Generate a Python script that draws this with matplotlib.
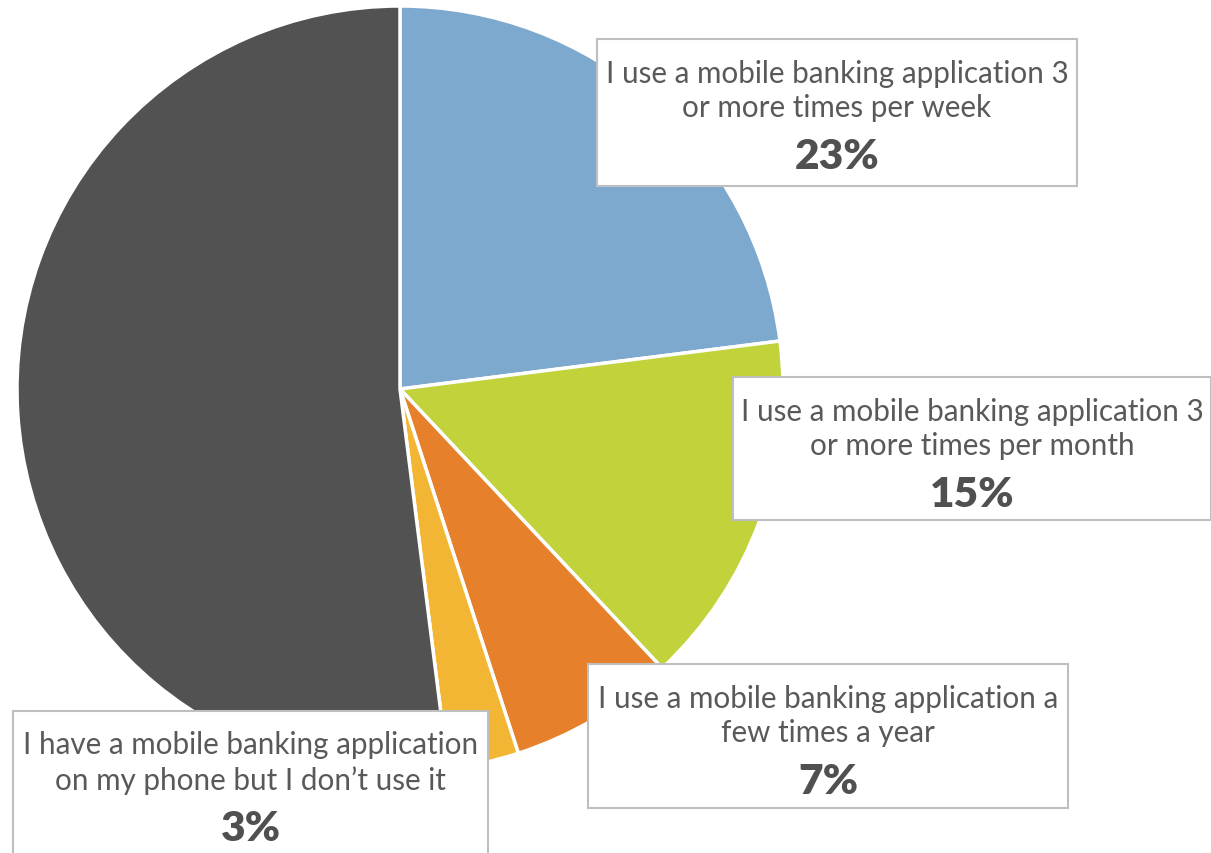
import matplotlib.pyplot as plt
from matplotlib.patches import Rectangle

# survey shares (%), clockwise from 12 o'clock
labels = [
    "I use a mobile banking application 3\nor more times per week",
    "I use a mobile banking application 3\nor more times per month",
    "I use a mobile banking application a\nfew times a year",
    "I have a mobile banking application\non my phone but I don\u2019t use it",
    "",
]
values = [23, 15, 7, 3, 52]
colors = ["#7EA9CE", "#C1D23A", "#E6802B", "#F2B634", "#525252"]

# label boxes in pixel units: x0, y0(top), x1, y1(bottom)
boxes = [
    (597, 40, 1077, 187),
    (733, 378, 1211, 521),
    (588, 665, 1068, 809),
    (13, 712, 488, 860),
]

W, H = 1211, 854
plt.rcParams['font.family'] = ['Lato', 'DejaVu Sans']

fig = plt.figure(figsize=(W / 100, H / 100), dpi=100)
ax = fig.add_axes([0, 0, 1, 1])

ax.pie(values, colors=colors, startangle=90, counterclock=False,
       center=(400, H - 390), radius=383, frame=True,
       wedgeprops=dict(edgecolor='white', linewidth=2.5))
ax.set_xlim(0, W)
ax.set_ylim(0, H)
ax.set_aspect('equal')
ax.axis('off')

for lab, v, (x0, y0, x1, y1) in zip(labels, values, boxes):
    ax.add_patch(Rectangle((x0, H - y1), x1 - x0, y1 - y0, facecolor='white',
                           edgecolor='#BFBFBF', linewidth=1.5, zorder=5))
    cx = (x0 + x1) / 2
    ax.text(cx, H - y0 - 51, lab, ha='center', va='center', fontsize=21.3,
            color='#595959', linespacing=1.3, zorder=6)
    ax.text(cx, H - y0 - 117, f"{v}%", ha='center', va='center', fontsize=30.5,
            fontweight='heavy', color='#505050', zorder=6)

fig.savefig('out.png', dpi=100)
